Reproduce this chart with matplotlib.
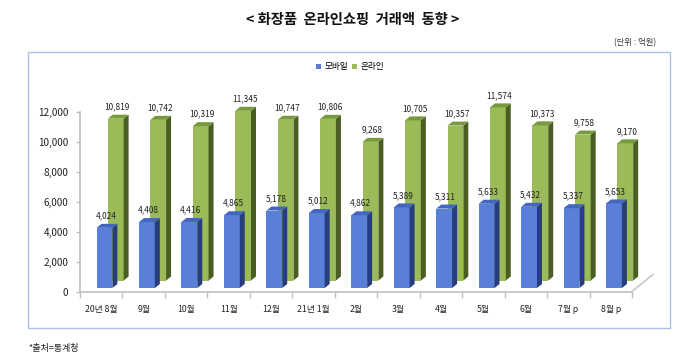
import matplotlib
matplotlib.use("Agg")
import matplotlib.pyplot as plt
from matplotlib.patches import Polygon, Rectangle, Patch
from matplotlib.ticker import FixedLocator

plt.rcParams['font.family'] = ['Noto Sans CJK KR', 'DejaVu Sans']

categories = ['20년 8월', '9월', '10월', '11월', '12월', '21년 1월', '2월',
              '3월', '4월', '5월', '6월', '7월 p', '8월 p']
mobile = [4024, 4408, 4416, 4865, 5178, 5012, 4862, 5389, 5311, 5633, 5432, 5337, 5653]
online = [10819, 10742, 10319, 11345, 10747, 10806, 9268, 10705, 10357, 11574, 10373, 9758, 9170]
series_names = ['모바일', '온라인']
yticks = [0, 2000, 4000, 6000, 8000, 10000, 12000]

W, H = 700, 361
fig = plt.figure(figsize=(W / 100, H / 100), dpi=100)

x_left, x_right = 80, 632
y_zero, y_top = 291.5, 112
ax = fig.add_axes([x_left / W, 1 - y_zero / H, (x_right - x_left) / W, (y_zero - y_top) / H])
n = len(categories)
ax.set_xlim(0, n)
ax.set_ylim(0, 12000)

px_x = (x_right - x_left) / n          # pixels per category
px_y = (y_zero - y_top) / 12000        # pixels per unit

bar_w = 15.8 / px_x
ddx = 5.0 / px_x
ddy = 4.0 / px_y

styles = [
    dict(off=0.39, base=3.5 / px_y, front='#5A7FD6', side='#283D7C', top='#4566C0'),
    dict(off=0.655, base=11.0 / px_y, front='#9BBB59', side='#4A5E24', top='#789A3E'),
]

def draw_series(values, st):
    xs = [i + st['off'] for i in range(n)]
    base = st['base']
    ax.bar(xs, values, width=bar_w, bottom=base, align='edge',
           color=st['front'], edgecolor='none', clip_on=False, zorder=3)
    for x0, v in zip(xs, values):
        top_y = base + v
        side = Polygon([(x0 + bar_w, base), (x0 + bar_w + ddx, base + ddy),
                        (x0 + bar_w + ddx, top_y + ddy), (x0 + bar_w, top_y)],
                       closed=True, fc=st['side'], ec='none', clip_on=False, zorder=3)
        top = Polygon([(x0, top_y), (x0 + bar_w, top_y),
                       (x0 + bar_w + ddx, top_y + ddy), (x0 + ddx, top_y + ddy)],
                      closed=True, fc=st['top'], ec='none', clip_on=False, zorder=3)
        ax.add_patch(side)
        ax.add_patch(top)
        ax.annotate(f'{v:,}', (x0 + bar_w / 2 + ddx * 0.3, top_y + ddy),
                    xytext=(0, 2.5), textcoords='offset points',
                    ha='center', va='bottom', fontsize=6.0, color='#222222',
                    annotation_clip=False, zorder=5)

draw_series(online, styles[1])
draw_series(mobile, styles[0])

for s in ['top', 'right']:
    ax.spines[s].set_visible(False)
ax.spines['left'].set_color('#BFBFBF')
ax.spines['bottom'].set_color('#BFBFBF')
ax.spines['left'].set_linewidth(1.2)
ax.spines['bottom'].set_linewidth(1.2)
ax.set_yticks(yticks)
ax.set_yticklabels([f'{t:,}' for t in yticks], fontsize=7.2, color='#222222')
ax.tick_params(axis='y', length=3, color='#BFBFBF', pad=5.5, width=1)
ax.set_xticks([i + 0.5 for i in range(n)])
ax.set_xticklabels(categories, fontsize=6.3, color='#222222')
ax.tick_params(axis='x', which='major', length=0, pad=10)
ax.xaxis.set_minor_locator(FixedLocator(list(range(n + 1))))
ax.tick_params(axis='x', which='minor', length=4, color='#BFBFBF', width=1)
ax.set_facecolor('none')

ax.plot([n, n + 21 / px_x], [0, 17 / px_y], color='#BFBFBF', lw=1.0, clip_on=False)

fig.add_artist(Rectangle((28 / W, 1 - 328 / H), (670 - 28) / W, (328 - 52) / H,
                         transform=fig.transFigure, fill=False, ec='#A9C2E6', lw=1.0))

fig.text(353 / W, 1 - 20 / H, '< 화장품  온라인쇼핑  거래액  동향 >', ha='center', va='center',
         fontsize=10.3, fontweight='bold', color='#111111')
fig.text(656 / W, 1 - 43 / H, '(단위 : 억원)', ha='right', va='center',
         fontsize=6, color='#333333')
fig.text(28 / W, 1 - 349 / H, '*출처=통계청', ha='left', va='center',
         fontsize=6.5, color='#222222')

handles = [Patch(fc=styles[0]['front'], ec='none'), Patch(fc=styles[1]['front'], ec='none')]
fig.legend(handles, series_names, loc='center', bbox_to_anchor=(350 / W, 1 - 67 / H),
           ncol=2, frameon=False, fontsize=6.2, handlelength=0.55, handleheight=0.55,
           handletextpad=0.4, columnspacing=0.5, borderpad=0)

fig.savefig('out.png', dpi=100)
